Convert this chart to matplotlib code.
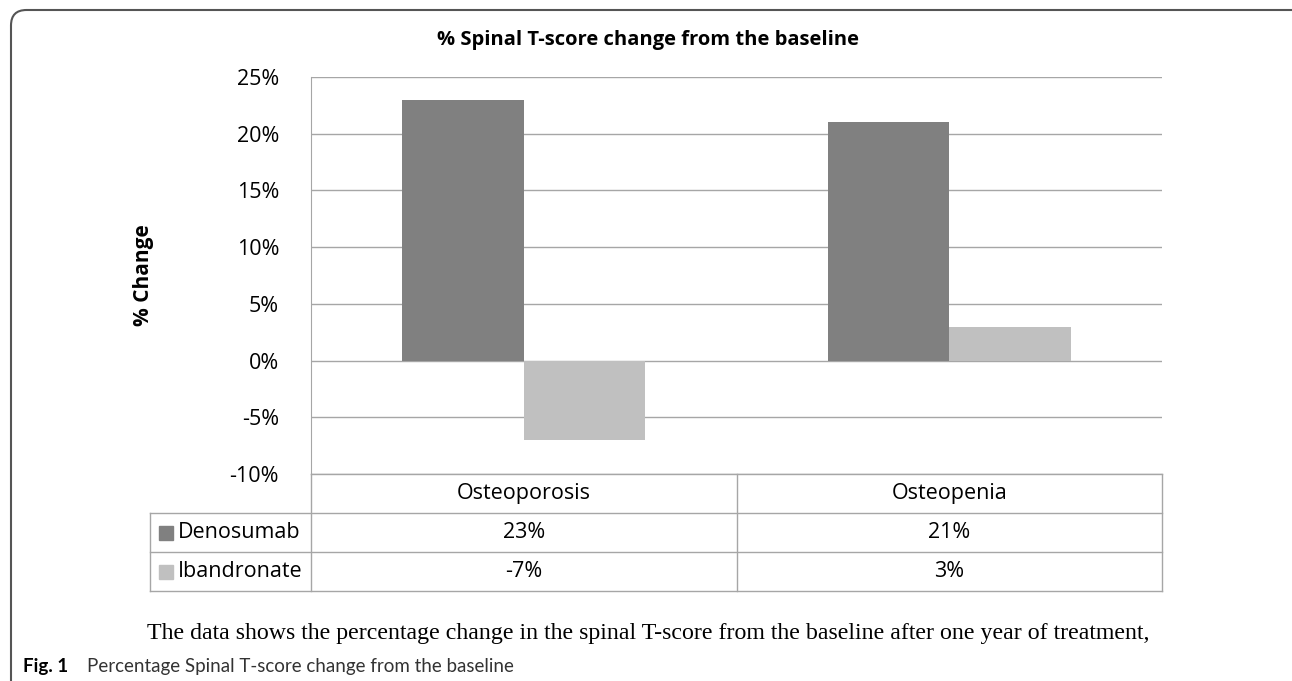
import matplotlib
matplotlib.use("Agg")
import matplotlib.pyplot as plt
from matplotlib.patches import FancyBboxPatch, Rectangle
from matplotlib.lines import Line2D
import numpy as np

categories = ["Osteoporosis", "Osteopenia"]
series_names = ["Denosumab", "Ibandronate"]
denosumab = [23, 21]
ibandronate = [-7, 3]
series_values = [denosumab, ibandronate]
series_colors = ["#808080", "#c0c0c0"]
yticks = [-10, -5, 0, 5, 10, 15, 20, 25]

title = "% Spinal T-score change from the baseline"
ylabel = "% Change"
body_text = "The data shows the percentage change in the spinal T-score from the baseline after one year of treatment,"
caption_bold = "Fig. 1"
caption_text = "Percentage Spinal T-score change from the baseline"

W, H = 1292, 681
fig = plt.figure(figsize=(W / 100, H / 100), dpi=100)
font = "Open Sans"
fs = 15.5
grid_c = "#a6a6a6"

ax = fig.add_axes([311 / W, 1 - 474 / H, (1162 - 311) / W, (474 - 77) / H])
ax.set_xlim(-0.5, len(categories) - 0.5)
ax.set_ylim(-10, 25)
ax.set_yticks(yticks)
ax.set_yticklabels([f"{t}%" for t in yticks], fontsize=fs, family=font)
ax.tick_params(axis="y", length=0, pad=23)
ax.set_xticks([])
for s in ["top", "right", "bottom"]:
    ax.spines[s].set_visible(False)
ax.spines["left"].set_color(grid_c)
ax.yaxis.grid(True, color=grid_c, lw=1)
ax.set_axisbelow(True)

x = np.arange(len(categories))
bw = 0.286
for i, (vals, col) in enumerate(zip(series_values, series_colors)):
    ax.bar(x + (i - 0.5) * bw, vals, width=bw, color=col, zorder=3)

fig.text(648 / W, 1 - 40 / H, title, fontsize=14.5, fontweight="bold", family=font,
         ha="center", va="center")
ax.set_ylabel(ylabel, fontsize=15, fontweight="bold", family=font)
ax.yaxis.set_label_coords((154 - 311) / 851, 0.5)

# data table under the chart
row_h = 39 / 397
tr = ax.get_xaxis_transform()
n = len(categories)
left_col = 161 / 426
lkw = dict(color=grid_c, lw=1, clip_on=False, transform=tr)
ax.add_line(Line2D([-0.5, n - 0.5], [0, 0], **lkw))
for r in range(1, 4):
    ax.add_line(Line2D([-0.5 - left_col, n - 0.5], [-r * row_h, -r * row_h], **lkw))
for b in range(n):
    ax.add_line(Line2D([b + 0.5, b + 0.5], [0, -3 * row_h], **lkw))
ax.add_line(Line2D([-0.5, -0.5], [0, -3 * row_h], **lkw))
ax.add_line(Line2D([-0.5 - left_col] * 2, [-row_h, -3 * row_h], **lkw))
for c, name in enumerate(categories):
    ax.text(c, -0.5 * row_h, name, transform=tr, ha="center", va="center",
            fontsize=fs, family=font)
for r, (sname, vals, col) in enumerate(zip(series_names, series_values, series_colors)):
    yc = -(r + 1.5) * row_h
    for c, v in enumerate(vals):
        ax.text(c, yc, f"{v}%", transform=tr, ha="center", va="center",
                fontsize=fs, family=font)
    kx = -0.5 - 152 / 426
    ax.add_patch(Rectangle((kx, yc - 7 / 397), 14 / 426, 14 / 397, transform=tr,
                           color=col, clip_on=False))
    ax.text(kx + 19 / 426, yc, sname, transform=tr, ha="left", va="center",
            fontsize=fs, family=font)

# outer rounded frame
frame = FancyBboxPatch((11 / W, -0.2), 1.2, 1 - 10 / H + 0.2,
                       boxstyle="round,pad=0,rounding_size=0.012",
                       transform=fig.transFigure, fill=False, ec="#555555", lw=1.5,
                       mutation_aspect=W / H)
fig.add_artist(frame)

fig.text(147 / W, 1 - 639 / H, body_text, family="Liberation Serif", fontsize=17.2,
         ha="left", va="baseline")
fig.text(23 / W, 1 - 672 / H, caption_bold, family="Lato", fontweight="bold",
         fontsize=13.5, ha="left", va="baseline")
fig.text(87 / W, 1 - 672 / H, caption_text, family="Lato",
         fontsize=13.5, ha="left", va="baseline", color="#333333")

fig.savefig("out.png", dpi=100)
